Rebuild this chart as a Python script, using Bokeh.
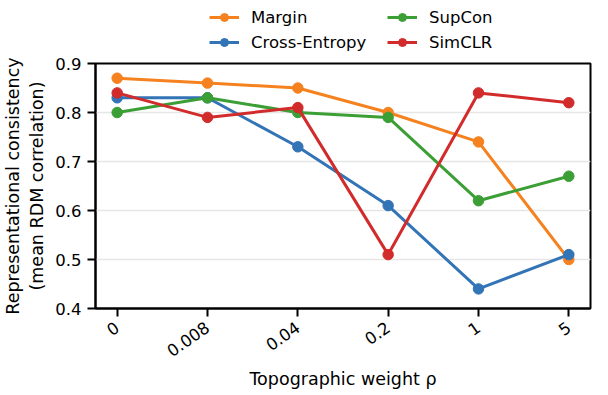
import math
from bokeh.plotting import figure
from bokeh.layouts import column
from bokeh.models import Legend, LegendItem, FixedTicker, Range1d
from bokeh.embed import file_html
from bokeh.resources import INLINE

weights = ["0", "0.008", "0.04", "0.2", "1", "5"]
margin = [0.87, 0.86, 0.85, 0.80, 0.74, 0.50]
cross_entropy = [0.83, 0.83, 0.73, 0.61, 0.44, 0.51]
supcon = [0.80, 0.83, 0.80, 0.79, 0.62, 0.67]
simclr = [0.84, 0.79, 0.81, 0.51, 0.84, 0.82]
y_ticks = [0.4, 0.5, 0.6, 0.7, 0.8, 0.9]

series = [
    ("Margin", margin, "#f5811f"),
    ("Cross-Entropy", cross_entropy, "#3274b6"),
    ("SupCon", supcon, "#3b9f36"),
    ("SimCLR", simclr, "#d22b2b"),
]

FONT = "DejaVu Sans"
W = 592
LEG_H = 54
MAIN_H = 338
LW = 3
MS = 10.5

xs = list(range(len(weights)))

# ---- legend strip (own figure, so the legend is not clipped) ----
# the series are drawn here too, but the ranges keep them out of view:
# they only feed the legend glyphs.
lg = figure(width=W, height=LEG_H, output_backend="svg", toolbar_location=None,
            x_range=Range1d(100, 101), y_range=Range1d(100, 101),
            x_axis_type=None, y_axis_type=None,
            min_border=0, min_border_left=0, min_border_right=0,
            min_border_top=0, min_border_bottom=0)
lg.outline_line_color = None
lg.grid.visible = False
items = []
for name, vals, col in series:
    r1 = lg.line(xs, vals, line_color=col, line_width=LW)
    r2 = lg.scatter(xs, vals, size=MS, fill_color=col, line_color=col)
    items.append(LegendItem(label=name, renderers=[r1, r2]))
legend = Legend(items=items, nrows=2, orientation="vertical",
                location=(114, 2),
                border_line_color=None, background_fill_alpha=0,
                label_text_font=FONT, label_text_font_size="16.5px",
                label_text_color="black",
                glyph_width=30, glyph_height=20, label_height=20,
                label_width=131,
                label_standoff=12, spacing=5, padding=0, margin=0)
lg.add_layout(legend, "center")

# ---- main chart ----
p = figure(width=W, height=MAIN_H, output_backend="svg", toolbar_location=None,
           x_range=Range1d(-0.24, 5.24), y_range=Range1d(0.4, 0.9),
           min_border_left=92, min_border_right=2, min_border_top=9,
           min_border_bottom=84)

for name, vals, col in series:
    p.line(xs, vals, line_color=col, line_width=LW)
    p.scatter(xs, vals, size=MS, fill_color=col, line_color=col)

p.outline_line_color = "black"
p.outline_line_width = 2
p.outline_line_alpha = 1

p.xgrid.grid_line_color = None
p.ygrid.grid_line_color = "#e6e6e6"
p.ygrid.grid_line_width = 1.5
p.ygrid.ticker = FixedTicker(ticks=[0.5, 0.6, 0.7, 0.8])

p.xaxis.ticker = FixedTicker(ticks=xs)
p.xaxis.major_label_overrides = {i: w for i, w in enumerate(weights)}
p.xaxis.major_label_orientation = math.radians(35)
p.yaxis.ticker = FixedTicker(ticks=y_ticks)
p.yaxis.major_label_overrides = {t: f"{t:.1f}" for t in y_ticks}

for ax in (p.xaxis[0], p.yaxis[0]):
    ax.axis_line_color = "black"
    ax.axis_line_width = 2
    ax.major_tick_line_color = "black"
    ax.major_tick_line_width = 2
    ax.major_tick_out = 8
    ax.major_tick_in = 0
    ax.minor_tick_line_color = None
    ax.major_label_text_font = FONT
    ax.major_label_text_font_size = "16.5px"
    ax.major_label_text_color = "black"
    ax.axis_label_text_font = FONT
    ax.axis_label_text_font_size = "17.5px"
    ax.axis_label_text_font_style = "normal"
    ax.axis_label_text_color = "black"

p.xaxis.axis_label = "Topographic weight ρ"
p.yaxis.axis_label = "Representational consistency\n(mean RDM correlation)"
p.xaxis.major_label_standoff = 9
p.yaxis.major_label_standoff = 6
p.xaxis.axis_label_standoff = 4
p.yaxis.axis_label_standoff = 5

layout = column(lg, p, spacing=0)
open("out.html", "w").write(file_html(layout, INLINE))
